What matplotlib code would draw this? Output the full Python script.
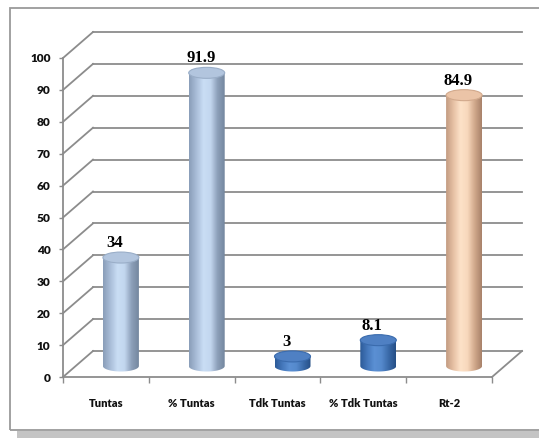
import numpy as np
import matplotlib
matplotlib.use("Agg")
import matplotlib.pyplot as plt
from matplotlib.transforms import offset_copy
from matplotlib.patches import Ellipse, Rectangle, PathPatch
from matplotlib.path import Path
from matplotlib.lines import Line2D
from matplotlib.colors import to_rgb

# ---- data ----
categories = ["Tuntas", "% Tuntas", "Tdk Tuntas", "% Tdk Tuntas", "Rt-2"]
values = [34, 91.9, 3, 8.1, 84.9]
value_labels = ["34", "91.9", "3", "8.1", "84.9"]
yticks = list(range(0, 101, 10))

# ---- styling ----
W, H = 539, 438
GRID = "#8c8c8c"
DEPTH = (30, 26)          # pixel shift of the back wall
BAR_W_PX = 36             # cylinder diameter in pixels
ELL_H_PX = 11             # apparent height of the cylinder caps

light_blue = dict(stops=["#8a9eb9", "#a9bdd8", "#c9ddf4", "#c3d7ef", "#8c9fb9", "#74879f"],
                  top=["#9aaec8", "#b2c5de", "#a6bad4"])
dark_blue = dict(stops=["#2c5b98", "#4477bb", "#5b90d4", "#5589cc", "#3a6aa9", "#264f86"],
                 top=["#3a6bad", "#4f80c3", "#4576b8"])
peach = dict(stops=["#c49c82", "#e6c0a4", "#fde2c8", "#f8d8bc", "#d1a98c", "#a9826a"],
             top=["#d2a98c", "#ebc4a7", "#dcb396"])
styles = [light_blue, light_blue, dark_blue, dark_blue, peach]

fig = plt.figure(figsize=(W / 100, H / 100), dpi=100)
fig.patch.set_facecolor("white")

# outer chart frame and its drop shadow
fig.add_artist(Rectangle((17 / W, 0), 1.0, 7 / H, transform=fig.transFigure,
                         facecolor="#c4c4c4", edgecolor="none"))
fig.add_artist(Rectangle((10 / W, 8 / H), 1.0, 422 / H, transform=fig.transFigure,
                         facecolor="none", edgecolor="#9a9a9a", lw=1.3))

ax = fig.add_axes([63 / W, (H - 377) / H, (492 - 63) / W, (377 - 58) / H])
ax.set_xlim(-0.5, len(categories) - 0.5)
ax.set_ylim(0, 100)
ax.patch.set_visible(False)

back = offset_copy(ax.transData, fig=fig, x=DEPTH[0], y=DEPTH[1], units="dots")
mid = offset_copy(ax.transData, fig=fig, x=DEPTH[0] / 2, y=DEPTH[1] / 2 - 2, units="dots")


def px(x, y, d=0.0):
    """Display coordinates of a data point pushed d of the way to the back wall."""
    X, Y = ax.transData.transform((x, y))
    return X + d * DEPTH[0], Y + d * DEPTH[1]


x0, x1 = ax.get_xlim()

# back wall gridlines and left wall slants
for v in yticks:
    ax.plot([x0, x1], [v, v], transform=back, color=GRID, lw=1.3, clip_on=False, zorder=1)
    a, b = px(x0, v), px(x0, v, 1)
    fig.add_artist(Line2D([a[0], b[0]], [a[1], b[1]], transform=None,
                          color=GRID, lw=1.3, zorder=1))
# right edge of the floor
a, b = px(x1, 0), px(x1, 0, 1)
fig.add_artist(Line2D([a[0], b[0]], [a[1], b[1]], transform=None, color=GRID, lw=1.3, zorder=1))

# axes, ticks and labels
for s in ("top", "right"):
    ax.spines[s].set_visible(False)
for s in ("left", "bottom"):
    ax.spines[s].set_color(GRID)
    ax.spines[s].set_linewidth(1.3)

ax.set_yticks(yticks)
ax.set_yticklabels([str(t) for t in yticks], fontfamily="Lato", fontweight="heavy",
                   fontsize=8.6, color="#111111")
ax.tick_params(axis="y", length=3, width=1, color=GRID, pad=6)

ax.set_xticks(np.arange(x0, x1 + 0.01, 1.0))
ax.set_xticklabels([])
ax.set_xticks(np.arange(len(categories)), minor=True)
ax.set_xticklabels(categories, minor=True, fontfamily="Lato", fontweight="heavy",
                   fontsize=8.0, color="#111111")
ax.tick_params(axis="x", which="major", length=4, width=1, color=GRID)
ax.tick_params(axis="x", which="minor", length=0, pad=15)

# cylinder geometry in data units
ux = (ax.transData.transform((1, 0))[0] - ax.transData.transform((0, 0))[0])
uy = (ax.transData.transform((0, 1))[1] - ax.transData.transform((0, 0))[1])
hw = BAR_W_PX / 2 / ux
eh = ELL_H_PX / uy


def gradient(stops, n=64):
    cols = np.array([to_rgb(c) for c in stops])
    pos = np.linspace(0, 1, len(cols))
    t = np.linspace(0, 1, n)
    return np.stack([np.interp(t, pos, cols[:, k]) for k in range(3)], axis=-1)[None, :, :]


t = np.linspace(np.pi, 2 * np.pi, 60)
for i, (v, st) in enumerate(zip(values, styles)):
    # silhouette: straight sides with a rounded base
    verts = [(i - hw, v), (i - hw, 0)]
    verts += [(i + hw * np.cos(a_), eh / 2 * np.sin(a_)) for a_ in t]
    verts += [(i + hw, v), (i - hw, v)]
    codes = [Path.MOVETO] + [Path.LINETO] * (len(verts) - 2) + [Path.CLOSEPOLY]
    body = PathPatch(Path(verts, codes), transform=mid, facecolor="none",
                     edgecolor="none", clip_on=False)
    ax.add_patch(body)
    im = ax.imshow(gradient(st["stops"]), extent=[i - hw, i + hw, -eh, v],
                   transform=mid, aspect="auto", interpolation="bilinear",
                   zorder=3, clip_on=True)
    im.set_clip_path(body)

    # top cap
    cap = Ellipse((i, v), 2 * hw, eh, transform=mid, facecolor=st["top"][1],
                  edgecolor=st["top"][0], lw=0.8, zorder=4, clip_on=False)
    ax.add_patch(cap)

    lab = offset_copy(mid, fig=fig, x=-6, y=ELL_H_PX / 2 + 1, units="dots")
    ax.text(i, v, value_labels[i], transform=lab, ha="center", va="bottom",
            fontfamily="Liberation Serif", fontweight="bold", fontsize=12,
            color="black", zorder=5, clip_on=False)

ax.set_xlim(x0, x1)
ax.set_ylim(0, 100)

fig.savefig("out.png", dpi=100)
